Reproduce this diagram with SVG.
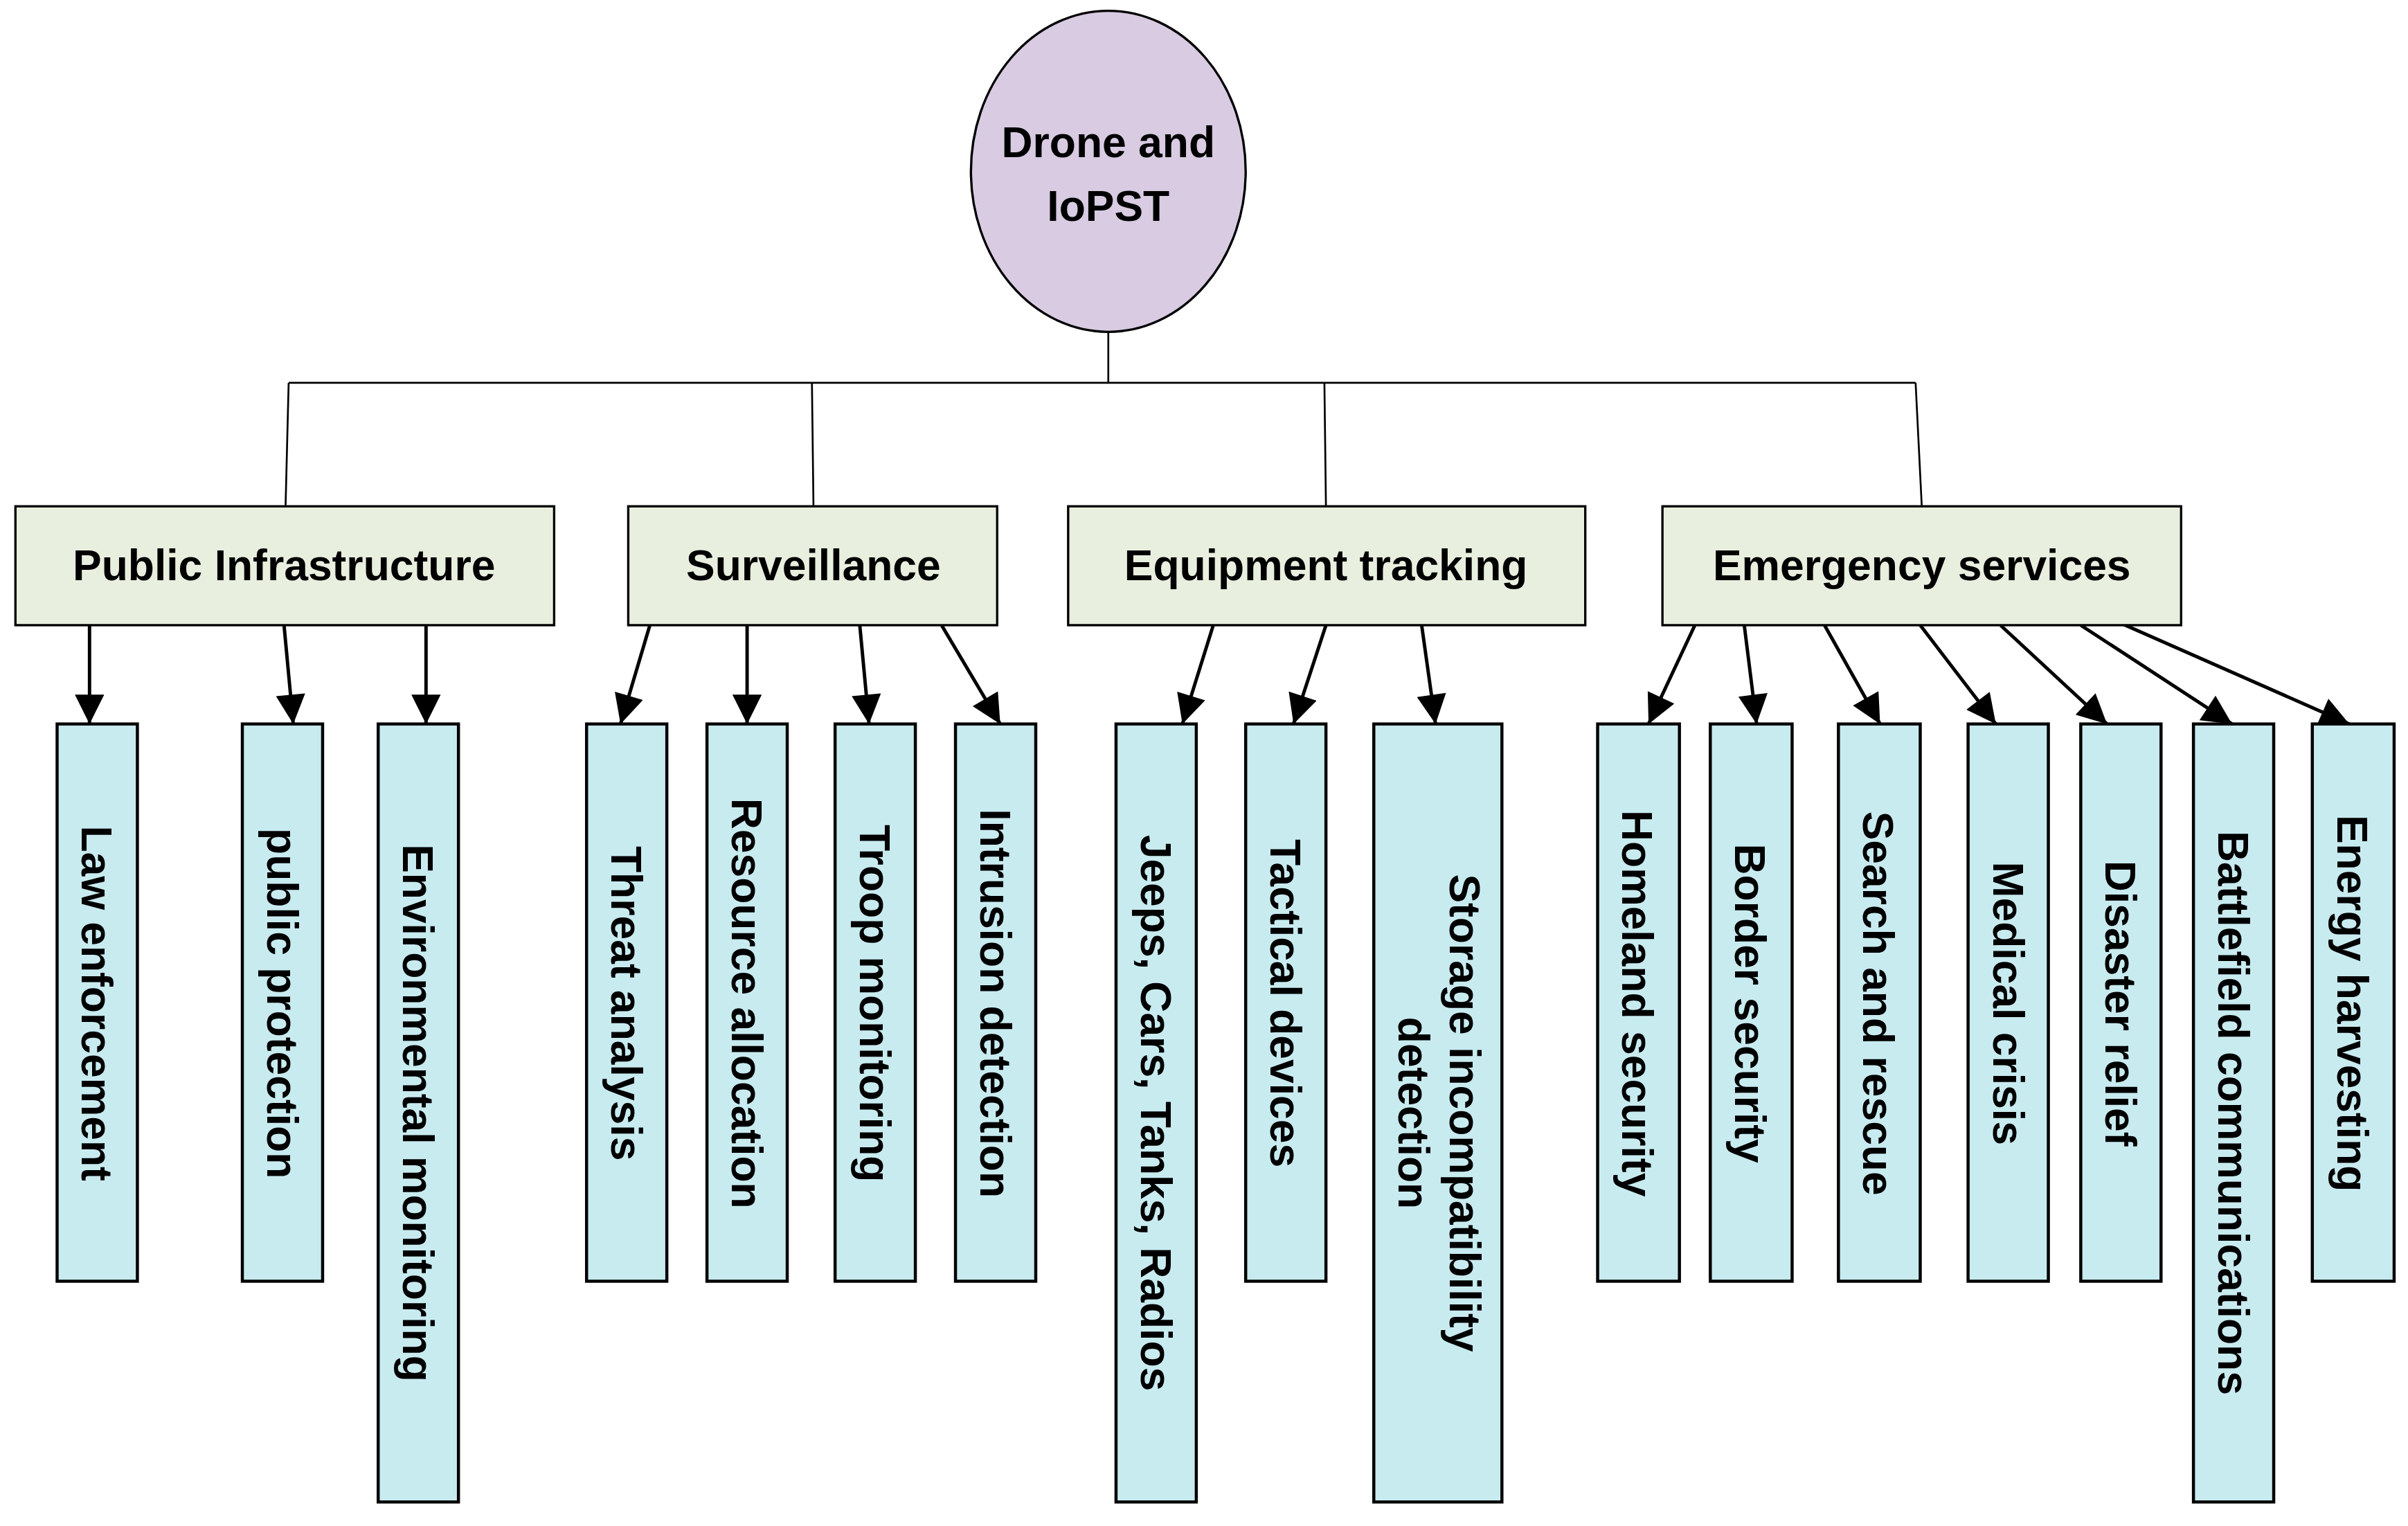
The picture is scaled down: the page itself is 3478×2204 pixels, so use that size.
<svg xmlns="http://www.w3.org/2000/svg" width="3478" height="2204" viewBox="0 0 3478 2204">
<defs>
<marker id="ah" viewBox="0 0 10 10" refX="10" refY="5" markerUnits="userSpaceOnUse" markerWidth="36" markerHeight="19" orient="auto"><path d="M0,0 L10,5 L0,10 z" fill="#000"/></marker>
<style>
.t{font-family:"Liberation Sans",Arial,sans-serif;font-weight:bold;font-size:28px;fill:#000;text-anchor:middle;dominant-baseline:central}
.l1{fill:#e9efdf;stroke:#000;stroke-width:1.5}
.lf{fill:#c8ebf0;stroke:#000;stroke-width:2}
.c{stroke:#000;stroke-width:1.2;fill:none}
.a{stroke:#000;stroke-width:2.2;fill:none;marker-end:url(#ah)}
</style>
</defs>
<rect width="3478" height="2204" fill="#fff"/>
<g transform="scale(2.2295)">
<g id="connectors">
<path class="c" d="M718,215 V248 M187,248 H1241 M187,248 L185,328 M526,248 L527,328 M858,248 L859,328 M1241,248 L1245,328"/>
<line class="a" x1="58" y1="405" x2="58" y2="469"/>
<line class="a" x1="184" y1="405" x2="190" y2="469"/>
<line class="a" x1="276" y1="405" x2="276" y2="469"/>
<line class="a" x1="421" y1="405" x2="402" y2="469"/>
<line class="a" x1="484" y1="405" x2="484" y2="469"/>
<line class="a" x1="557" y1="405" x2="563" y2="469"/>
<line class="a" x1="610" y1="405" x2="648" y2="469"/>
<line class="a" x1="786" y1="405" x2="766" y2="469"/>
<line class="a" x1="859" y1="405" x2="838" y2="469"/>
<line class="a" x1="921" y1="405" x2="930" y2="469"/>
<line class="a" x1="1098" y1="405" x2="1068" y2="469"/>
<line class="a" x1="1130" y1="405" x2="1138" y2="469"/>
<line class="a" x1="1182" y1="405" x2="1218" y2="469"/>
<line class="a" x1="1244" y1="405" x2="1293" y2="469"/>
<line class="a" x1="1296" y1="405" x2="1365" y2="469"/>
<line class="a" x1="1348" y1="405" x2="1446" y2="469"/>
<line class="a" x1="1370" y1="402" x2="1522" y2="469"/>
</g>
<g id="root"><ellipse cx="718" cy="111" rx="89" ry="104" fill="#d8cbe2" stroke="#000" stroke-width="1.5"/><text class="t" x="718" y="92">Drone and</text><text class="t" x="718" y="133">IoPST</text></g>
<g id="n-public"><rect class="l1" x="10" y="328" width="349" height="77"/><text class="t" x="184" y="366">Public Infrastructure</text></g>
<g id="n-surv"><rect class="l1" x="407" y="328" width="239" height="77"/><text class="t" x="527" y="366">Surveillance</text></g>
<g id="n-equip"><rect class="l1" x="692" y="328" width="335" height="77"/><text class="t" x="859" y="366">Equipment tracking</text></g>
<g id="n-emerg"><rect class="l1" x="1077" y="328" width="336" height="77"/><text class="t" x="1245" y="366">Emergency services</text></g>
<g id="l1"><rect class="lf" x="37" y="469" width="52" height="361"/><text class="t" transform="translate(63,650) rotate(90)">Law enforcement</text></g>
<g id="l2"><rect class="lf" x="157" y="469" width="52" height="361"/><text class="t" transform="translate(183,650) rotate(90)">public protection</text></g>
<g id="l3"><rect class="lf" x="245" y="469" width="52" height="504"/><text class="t" transform="translate(271,721) rotate(90)">Environmental monitoring</text></g>
<g id="l4"><rect class="lf" x="380" y="469" width="52" height="361"/><text class="t" transform="translate(406,650) rotate(90)">Threat analysis</text></g>
<g id="l5"><rect class="lf" x="458" y="469" width="52" height="361"/><text class="t" transform="translate(484,650) rotate(90)">Resource allocation</text></g>
<g id="l6"><rect class="lf" x="541" y="469" width="52" height="361"/><text class="t" transform="translate(567,650) rotate(90)">Troop monitoring</text></g>
<g id="l7"><rect class="lf" x="619" y="469" width="52" height="361"/><text class="t" transform="translate(645,650) rotate(90)">Intrusion detection</text></g>
<g id="l8"><rect class="lf" x="723" y="469" width="52" height="504"/><text class="t" transform="translate(749,721) rotate(90)">Jeeps, Cars, Tanks, Radios</text></g>
<g id="l9"><rect class="lf" x="807" y="469" width="52" height="361"/><text class="t" transform="translate(833,650) rotate(90)">Tactical devices</text></g>
<g id="l10"><rect class="lf" x="890" y="469" width="83" height="504"/><text class="t" transform="translate(949,721) rotate(90)">Storage incompatibility</text><text class="t" transform="translate(916,721) rotate(90)">detection</text></g>
<g id="l11"><rect class="lf" x="1035" y="469" width="53" height="361"/><text class="t" transform="translate(1061,650) rotate(90)">Homeland security</text></g>
<g id="l12"><rect class="lf" x="1108" y="469" width="53" height="361"/><text class="t" transform="translate(1134,650) rotate(90)">Border security</text></g>
<g id="l13"><rect class="lf" x="1191" y="469" width="53" height="361"/><text class="t" transform="translate(1217,650) rotate(90)">Search and rescue</text></g>
<g id="l14"><rect class="lf" x="1275" y="469" width="52" height="361"/><text class="t" transform="translate(1301,650) rotate(90)">Medical crisis</text></g>
<g id="l15"><rect class="lf" x="1348" y="469" width="52" height="361"/><text class="t" transform="translate(1374,650) rotate(90)">Disaster relief</text></g>
<g id="l16"><rect class="lf" x="1421" y="469" width="52" height="504"/><text class="t" transform="translate(1447,721) rotate(90)">Battlefield communications</text></g>
<g id="l17"><rect class="lf" x="1498" y="469" width="53" height="361"/><text class="t" transform="translate(1524,650) rotate(90)">Energy harvesting</text></g>
</g>
</svg>
